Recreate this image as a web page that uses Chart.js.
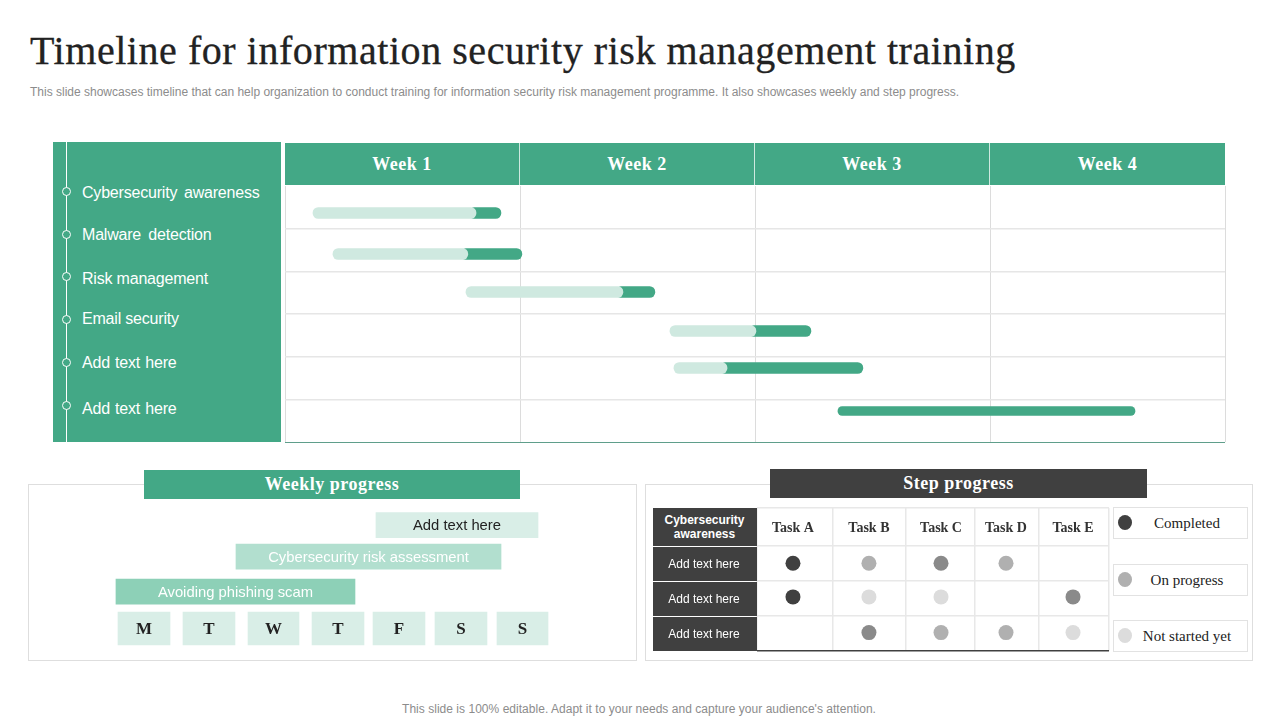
<!DOCTYPE html>
<html>
<head>
<meta charset="utf-8">
<script src="https://cdn.jsdelivr.net/npm/chart.js@4"></script>
<style>
  html, body { margin: 0; padding: 0; background: #fff; }
  #slide { position: relative; width: 1280px; height: 720px; overflow: hidden; font-family: "Liberation Sans", sans-serif; }
  #slide > * { position: absolute; box-sizing: border-box; }
  .serif { font-family: "Liberation Serif", serif; }
  .cell { display: flex; align-items: center; justify-content: center; text-align: center; }
  .green { background: #43a886; color: #fff; }
  .dark { background: #404040; color: #fff; }
  .panel { border: 1.5px solid #dedede; }
  .legendBox { border: 1.5px solid #e2e2e2; }
  .heading { font-weight: bold; letter-spacing: 0.5px; }
</style>
</head>
<body>
<div id="slide">
  <div class="serif" style="left:30px;top:27px;font-size:40px;line-height:48px;color:#222;letter-spacing:0.55px;-webkit-text-stroke:0.3px #222;white-space:nowrap">Timeline for information security risk management training</div>
  <div style="left:30px;top:85px;font-size:12px;line-height:15px;color:#8c8c8c;white-space:nowrap">This slide showcases timeline that can help organization to conduct training for information security risk management programme. It also showcases weekly and step progress.</div>

  <div class="green" style="left:53px;top:142px;width:228px;height:300px"></div>
  <div style="left:66px;top:142px;width:1px;height:300px;background:#fff"></div>
  <canvas id="ganttChart" width="944" height="260" style="left:283px;top:184px"></canvas>

  <div class="panel" style="left:28px;top:484px;width:609px;height:177px"></div>
  <div class="green cell serif heading" style="left:144px;top:470px;width:376px;height:29px;font-size:18px">Weekly progress</div>
  <canvas id="weeklyChart" width="445" height="144" style="left:110px;top:508px"></canvas>

  <div class="panel" style="left:645px;top:484px;width:608px;height:177px"></div>
  <div class="dark cell serif heading" style="left:770px;top:469px;width:377px;height:29px;font-size:18px">Step progress</div>
  <canvas id="stepChart" width="356" height="147" style="left:755px;top:506px"></canvas>

  <div class="cell" style="left:0;top:701px;width:1278px;height:15px;font-size:12px;color:#8c8c8c;letter-spacing:0.03px">This slide is 100% editable. Adapt it to your needs and capture your audience's attention.</div>
</div>

<script>
// --- DATA --- //
const weeks = ['Week 1', 'Week 2', 'Week 3', 'Week 4'];
const topics = ['Cybersecurity awareness', 'Malware detection', 'Risk management', 'Email security', 'Add text here', 'Add text here'];

// gantt, in weeks from the start of week 1
const ganttStart = [0.119, 0.204, 0.77, 1.638, 1.655, 2.353];
const ganttDone = [0.813, 0.778, 1.438, 2.004, 1.881, null];
const ganttEnd = [0.919, 1.008, 1.574, 2.238, 2.459, 3.617];
const ganttRow = [0.633, 1.594, 2.484, 3.398, 4.266, 5.273];

// weekly progress, in days from monday
const weeklyTasks = ['Add text here', 'Cybersecurity risk assessment', 'Avoiding phishing scam'];
const weeklyStart = [4.19, 1.968, 0.063];
const weeklyEnd = [6.762, 6.175, 3.857];
const weeklyRow = [0.43, 1.33, 2.33];
const days = ['M', 'T', 'W', 'T', 'F', 'S', 'S'];
const dayStart = [0.095, 1.127, 2.159, 3.175, 4.143, 5.127, 6.111];
const dayEnd = [0.921, 1.952, 2.968, 4.0, 4.968, 5.952, 6.921];

// step progress: 0 empty, 1 completed, 2 on progress, 3 started, 4 not started yet
const tasks = ['Task A', 'Task B', 'Task C', 'Task D', 'Task E'];
const stepRowNames = ['Add text here', 'Add text here', 'Add text here'];
const stepStatus1 = [1, 2, 3, 2, 0];
const stepStatus2 = [1, 4, 4, 0, 3];
const stepStatus3 = [0, 3, 2, 2, 4];
const taskEdges = [0, 1.08, 2.117, 3.097, 4.006, 5];
const taskCentres = [0.511, 1.59, 2.614, 3.537, 4.489];
const rowEdges = [0, 1.086, 2.086, 3.086, 4.086];
const rowCentres = [1.58, 2.54, 3.56];
const legendNames = ['Completed', 'On progress', 'Not started yet'];

// --- STYLE --- //
const GREEN = '#43a886';
const PALE = '#cfe9e0';
const statusColors = { 1: '#404040', 2: '#b0b0b0', 3: '#8a8a8a', 4: '#dcdcdc' };

// --- HTML AROUND THE CHARTS --- //
const slide = document.getElementById('slide');

function addBox(className, style, text) {
    const el = document.createElement('div');
    el.className = className;
    el.style.cssText = style;
    el.textContent = text || '';
    slide.appendChild(el);
}

const topicDots = [191, 234, 276, 319, 362, 405];
const topicText = [193, 235, 279, 319, 363, 409];
const topicGap = [2.5, 3, 0, 0, 1, 1];
topics.forEach((name, i) => {
    addBox('', `left:62px;top:${topicDots[i] - 4}px;width:9px;height:9px;border:1px solid #fff;border-radius:50%;background:${GREEN}`);
    addBox('', `left:82px;top:${topicText[i] - 10}px;height:20px;line-height:20px;font-size:16px;color:#fff;white-space:nowrap;letter-spacing:-0.2px;word-spacing:${topicGap[i]}px`, name);
});

weeks.forEach((name, i) => {
    addBox('green cell serif heading', `left:${285 + i * 235}px;top:143px;width:235px;height:42px;font-size:18px;border-right:${i < 3 ? '1px solid #cfe9e0' : 'none'}`, name);
});

addBox('dark cell', 'left:653px;top:508px;width:104px;height:38px;font-size:12px;font-weight:bold;line-height:14px;padding-right:1px', 'Cybersecurity awareness');
stepRowNames.forEach((name, i) => {
    addBox('dark cell', `left:653px;top:${547 + i * 35}px;width:104px;height:34px;font-size:12px;padding-right:2px`, name);
});

const legendTop = [507, 564, 620];
const legendStatus = [1, 2, 4];
legendNames.forEach((name, i) => {
    addBox('legendBox', `left:1113px;top:${legendTop[i]}px;width:135px;height:32px`);
    addBox('', `left:1118px;top:${legendTop[i] + 8}px;width:14px;height:15px;border-radius:50%;background:${statusColors[legendStatus[i]]}`);
    addBox('cell serif', `left:1127px;top:${legendTop[i]}px;width:120px;height:32px;font-size:15px;color:#222;white-space:nowrap`, name);
});

// --- PLUGIN: TEXT IN THE MIDDLE OF A MARK --- //
const markText = {
    id: 'markText',
    afterDatasetsDraw(chart) {
        const ctx = chart.ctx;
        chart.data.datasets.forEach((ds, d) => {
            if (!ds.markLabels) return;
            chart.getDatasetMeta(d).data.forEach((el, i) => {
                const c = el.getCenterPoint ? el.getCenterPoint() : el;
                ctx.save();
                ctx.font = ds.markFont;
                ctx.fillStyle = Array.isArray(ds.markColor) ? ds.markColor[i] : ds.markColor;
                ctx.textAlign = 'center';
                ctx.textBaseline = 'middle';
                ctx.fillText(ds.markLabels[i], c.x, c.y + 1);
                ctx.restore();
            });
        });
    }
};

function baseOptions(scales) {
    return {
        indexAxis: 'y',
        responsive: false,
        animation: false,
        layout: { padding: 2, autoPadding: false },
        plugins: { legend: { display: false }, tooltip: { enabled: false } },
        scales: scales
    };
}

// --- GANTT --- //
const rowIdx = ganttStart.map((_, i) => i);
const startedRows = rowIdx.filter(i => ganttDone[i] !== null);
const waitingRows = rowIdx.filter(i => ganttDone[i] === null);

new Chart(document.getElementById('ganttChart'), {
    type: 'bar',
    data: {
        datasets: [
            {
                label: 'Done',
                order: 1,
                grouped: false,
                barThickness: 11,
                borderRadius: 6,
                borderSkipped: false,
                backgroundColor: PALE,
                data: startedRows.map(i => ({ x: [ganttStart[i], ganttDone[i]], y: ganttRow[i] }))
            },
            {
                // starts under the end of the pale bar, so no green shows round its left end
                label: 'Remaining',
                order: 2,
                grouped: false,
                barThickness: 11,
                borderRadius: 6,
                borderSkipped: false,
                backgroundColor: GREEN,
                data: startedRows.map(i => ({ x: [ganttDone[i] - 0.03, ganttEnd[i]], y: ganttRow[i] }))
            },
            {
                label: 'Not started',
                order: 3,
                grouped: false,
                barThickness: 9,
                borderRadius: 5,
                borderSkipped: false,
                backgroundColor: GREEN,
                data: waitingRows.map(i => ({ x: [ganttStart[i], ganttEnd[i]], y: ganttRow[i] }))
            }
        ]
    },
    options: baseOptions({
        x: {
            type: 'linear', min: 0, max: 4,
            ticks: { display: false, stepSize: 1 },
            border: { display: false },
            grid: { color: '#dcdcdc', lineWidth: 1, drawTicks: false }
        },
        y: {
            type: 'linear', min: 0, max: 6, reverse: true, offset: false,
            ticks: { display: false, stepSize: 1 },
            border: { display: false },
            grid: {
                offset: false,
                drawTicks: false,
                color: ctx => (ctx.tick?.value === 6 ? '#5f9e8b' : (ctx.tick?.value === 0 ? 'rgba(0,0,0,0)' : '#e6e6e6')),
                lineWidth: ctx => (ctx.tick?.value === 6 ? 1 : 1.5)
            }
        }
    })
});

// --- WEEKLY PROGRESS --- //
new Chart(document.getElementById('weeklyChart'), {
    type: 'bar',
    data: {
        datasets: [
            {
                label: 'Tasks',
                grouped: false,
                barThickness: 25,
                backgroundColor: ['#d9eee7', '#b2dfcf', '#8dd0b7'],
                data: weeklyTasks.map((_, i) => ({ x: [weeklyStart[i], weeklyEnd[i]], y: weeklyRow[i] })),
                markLabels: weeklyTasks,
                markFont: '14.8px "Liberation Sans"',
                markColor: ['#222222', '#ffffff', '#ffffff']
            },
            {
                label: 'Days',
                grouped: false,
                barThickness: 33,
                backgroundColor: '#d9eee7',
                data: days.map((_, i) => ({ x: [dayStart[i], dayEnd[i]], y: 3.386 })),
                markLabels: days,
                markFont: 'bold 17px "Liberation Serif"',
                markColor: '#222222'
            }
        ]
    },
    options: baseOptions({
        x: { type: 'linear', min: 0, max: 7, display: false },
        y: { type: 'linear', min: 0, max: 4, reverse: true, offset: false, display: false }
    }),
    plugins: [markText]
});

// --- STEP PROGRESS --- //
const stepRows = [stepStatus1, stepStatus2, stepStatus3];

function pointsFor(status) {
    const pts = [];
    stepRows.forEach((row, r) => row.forEach((s, t) => {
        if (s === status) pts.push({ x: taskCentres[t], y: rowCentres[r] });
    }));
    return pts;
}

new Chart(document.getElementById('stepChart'), {
    type: 'scatter',
    data: {
        datasets: [1, 2, 3, 4].map(s => ({
            label: 'status ' + s,
            data: pointsFor(s),
            pointRadius: 7.5,
            pointBorderWidth: 0,
            backgroundColor: statusColors[s]
        })).concat([{
            label: 'Tasks',
            data: tasks.map((_, t) => ({ x: taskCentres[t], y: 0.55 })),
            pointRadius: 0,
            markLabels: tasks,
            markFont: 'bold 14px "Liberation Serif"',
            markColor: '#333333'
        }])
    },
    options: {
        responsive: false,
        animation: false,
        layout: { padding: 2, autoPadding: false },
        plugins: { legend: { display: false }, tooltip: { enabled: false } },
        scales: {
            x: {
                type: 'linear', min: 0, max: 5,
                ticks: { display: false },
                afterBuildTicks: axis => { axis.ticks = taskEdges.map(v => ({ value: v })); },
                border: { display: false },
                grid: { color: '#e8e8e8', lineWidth: 1.5, drawTicks: false }
            },
            y: {
                type: 'linear', min: 0, max: 4.086, reverse: true,
                ticks: { display: false },
                afterBuildTicks: axis => { axis.ticks = rowEdges.map(v => ({ value: v })); },
                border: { display: false },
                grid: {
                    drawTicks: false,
                    color: ctx => (ctx.tick?.value === 4.086 ? '#404040' : '#e8e8e8'),
                    lineWidth: 1.5
                }
            }
        }
    },
    plugins: [markText]
});
</script>
</body>
</html>
